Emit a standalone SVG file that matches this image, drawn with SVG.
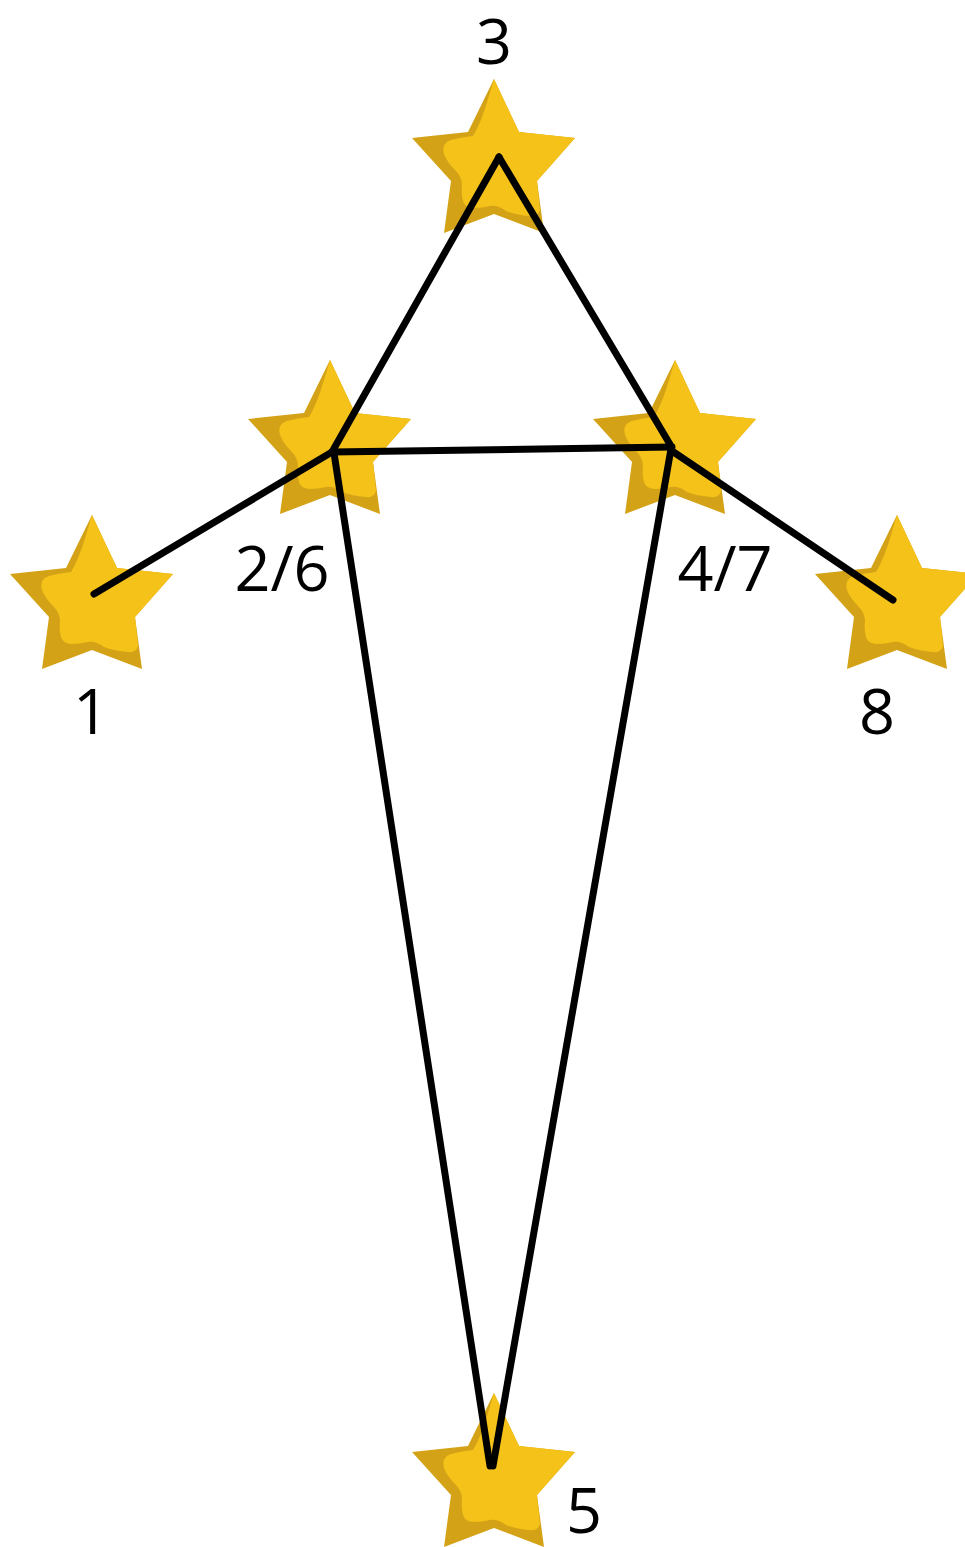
<svg xmlns="http://www.w3.org/2000/svg" xmlns:xlink="http://www.w3.org/1999/xlink" width="965" height="1547" viewBox="0 0 965 1547">
<style>
.dark{fill:#d4a216}
.light{fill:#f5c219}
.edge{stroke:#000;stroke-width:7;stroke-linecap:round;stroke-linejoin:round;fill:none}
.lbl{font-family:"Open Sans","Noto Sans",sans-serif;font-size:63px;fill:#000;text-anchor:middle}
</style>
<defs>
<g id="star">
<path class="dark" d="M0,-86 L25,-33 L81,-27 L43,16 L50,68 L0,49 L-50,68 L-43,16 L-82,-27 L-26,-33 Z"/>
<path class="light" d="M0,-86 L25,-33 L81,-27 L43,16 L46,45 Q44,52 36,51 Q22,50 12,46 Q4,40 -4,41 Q-12,43 -20,43 Q-29,43 -31,36 Q-33,29 -32,20 Q-32,12 -39,5 Q-47,-3 -50,-11 Q-53,-22 -43,-25 Q-32,-28 -21,-29 Q-13,-42 -6,-66 Z"/>
</g>
</defs>
<rect width="965" height="1547" fill="#fff"/>
<g id="n1"><use xlink:href="#star" href="#star" x="92" y="601"/><text class="lbl" x="91" y="734">1</text></g>
<g id="n26"><use xlink:href="#star" href="#star" x="330" y="446"/><text class="lbl" x="282" y="591">2/6</text></g>
<g id="n3"><use xlink:href="#star" href="#star" x="494" y="165"/><text class="lbl" x="494" y="64">3</text></g>
<g id="n47"><use xlink:href="#star" href="#star" x="675" y="446"/><text class="lbl" x="725" y="591">4/7</text></g>
<g id="n8"><use xlink:href="#star" href="#star" x="897" y="601"/><text class="lbl" x="877" y="734">8</text></g>
<g id="n5"><use xlink:href="#star" href="#star" x="494" y="1479"/><text class="lbl" x="584" y="1533">5</text></g>
<g id="connectors" class="edge">
<line x1="94" y1="594" x2="332" y2="452"/>
<line x1="332" y1="452" x2="499" y2="157"/>
<line x1="499" y1="157" x2="671" y2="446"/>
<line x1="332" y1="452" x2="672" y2="447"/>
<line x1="672" y1="451" x2="893" y2="600"/>
<line x1="334" y1="453" x2="490" y2="1466"/>
<line x1="493" y1="1466" x2="671" y2="449"/>
</g>
</svg>
